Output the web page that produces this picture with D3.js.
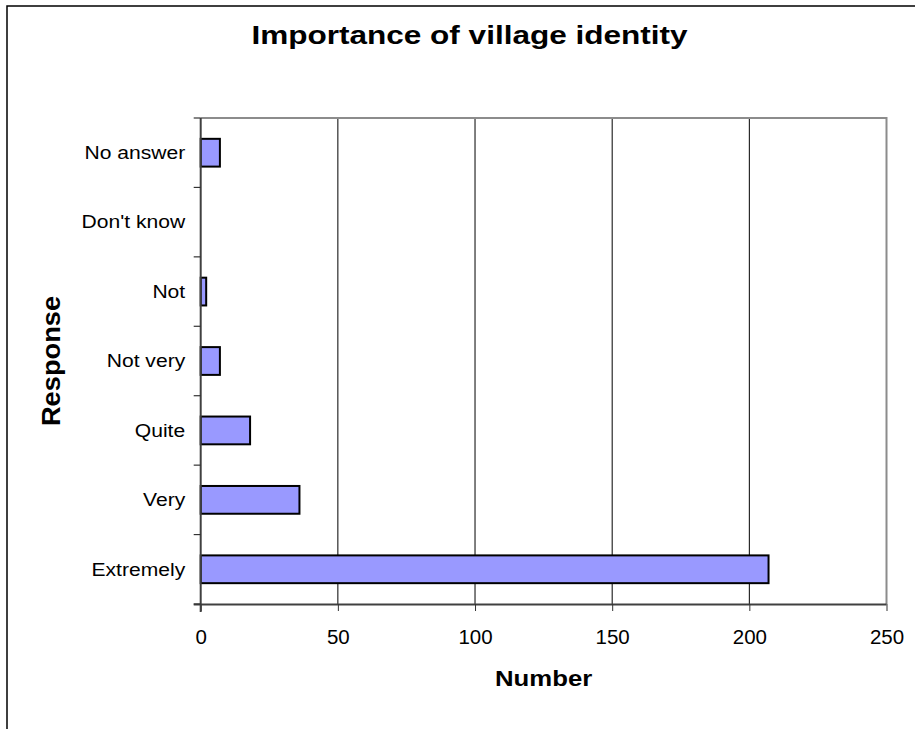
<!DOCTYPE html>
<html><head><meta charset="utf-8">
<script src="https://cdn.jsdelivr.net/npm/d3@7"></script>
<style>html,body{margin:0;padding:0;background:#fff;} svg{display:block;}</style>
</head><body>
<script>
const categories = ["No answer","Don't know","Not","Not very","Quite","Very","Extremely"];
const values = [7, 0, 2, 7, 18, 36, 207];
const xTicks = [0, 50, 100, 150, 200, 250];
const titleText = "Importance of village identity";
const xTitle = "Number";
const yTitle = "Response";

const W = 915, H = 729;
const plot = {left: 200.7, right: 886.5, top: 118, bottom: 604};
const font = "'Liberation Sans', Arial, Helvetica, sans-serif";

const svg = d3.select("body").append("svg").attr("width", W).attr("height", H);

// outer chart frame (top and left edges visible)
svg.append("path").attr("d", `M7,${H+2} L7,6 L${W+2},6`)
  .attr("fill","none").attr("stroke","#000").attr("stroke-width",1.5);

const x = d3.scaleLinear().domain([0, 250]).range([plot.left, plot.right]);
const y = d3.scaleBand().domain(categories).range([plot.top, plot.bottom])
  .paddingInner(0.6).paddingOuter(0.3);

// gridlines
svg.append("g").selectAll("line").data(xTicks.filter(d => d > 0 && d < 250)).join("line")
  .attr("x1", d => x(d)).attr("x2", d => x(d))
  .attr("y1", plot.top).attr("y2", plot.bottom)
  .attr("stroke", "#000").attr("stroke-width", 1);

// plot border top & right (gray)
svg.append("path")
  .attr("d", `M${plot.left},${plot.top} L${plot.right},${plot.top} L${plot.right},${plot.bottom}`)
  .attr("fill","none").attr("stroke","#8c8c8c").attr("stroke-width",2);

// bars
svg.append("g").selectAll("rect").data(categories.map((c,i)=>({c, v: values[i]})).filter(d => d.v > 0)).join("rect")
  .attr("x", x(0)).attr("y", d => y(d.c))
  .attr("width", d => x(d.v) - x(0)).attr("height", y.bandwidth())
  .attr("fill", "#9999ff").attr("stroke", "#000").attr("stroke-width", 2);

// x axis
const xAxis = svg.append("g").attr("transform", `translate(0,${plot.bottom})`)
  .call(d3.axisBottom(x).tickValues(xTicks).tickSize(7).tickPadding(0).tickFormat(d3.format("d")));
xAxis.select(".domain").attr("stroke","#404040").attr("stroke-width",2)
  .attr("d", `M${plot.left - 7},0.5H${plot.right}`);
xAxis.selectAll(".tick line").attr("stroke","#333").attr("stroke-width",1);
xAxis.selectAll(".tick text").attr("font-family", font).attr("font-size", "20.5px")
  .attr("fill","#000").attr("y", 0).attr("dy", 0).attr("transform","translate(0,40)");

// y axis
const yAxis = svg.append("g").attr("transform", `translate(${plot.left},0)`);
yAxis.append("line").attr("x1",0).attr("x2",0).attr("y1",plot.top).attr("y2",plot.bottom+8)
  .attr("stroke","#404040").attr("stroke-width",2);
const step = y.step();
const boundaries = d3.range(categories.length + 1).map(i => plot.top + i * step);
yAxis.selectAll("line.tk").data(boundaries).join("line").attr("class","tk")
  .attr("x1",-7).attr("x2",0).attr("y1",d=>d).attr("y2",d=>d)
  .attr("stroke","#333").attr("stroke-width",1.2);
yAxis.selectAll("g.lbl").data(categories).join("g").attr("class","lbl")
  .attr("transform", d => `translate(-15.5,${y(d) + y.bandwidth()/2 + 6.3}) scale(1.14,1)`)
  .append("text").attr("text-anchor","end").attr("font-family",font).attr("font-size","18.5px")
  .attr("fill","#000").text(d => d);

// title
svg.append("g").attr("transform","translate(469.5,44) scale(1.19,1)")
  .append("text").attr("text-anchor","middle").attr("font-family",font).attr("font-weight","bold")
  .attr("font-size","26.5px").attr("fill","#000").text(titleText);

// x title
svg.append("g").attr("transform",`translate(${(plot.left+plot.right)/2},685.5) scale(1.17,1)`)
  .append("text").attr("text-anchor","middle").attr("font-family",font).attr("font-weight","bold")
  .attr("font-size","22px").attr("fill","#000").text(xTitle);

// y title
svg.append("g").attr("transform",`translate(60,${(plot.top+plot.bottom)/2}) rotate(-90) scale(1.09,1)`)
  .append("text").attr("text-anchor","middle").attr("font-family",font).attr("font-weight","bold")
  .attr("font-size","25px").attr("fill","#000").text(yTitle);
</script>
</body></html>
